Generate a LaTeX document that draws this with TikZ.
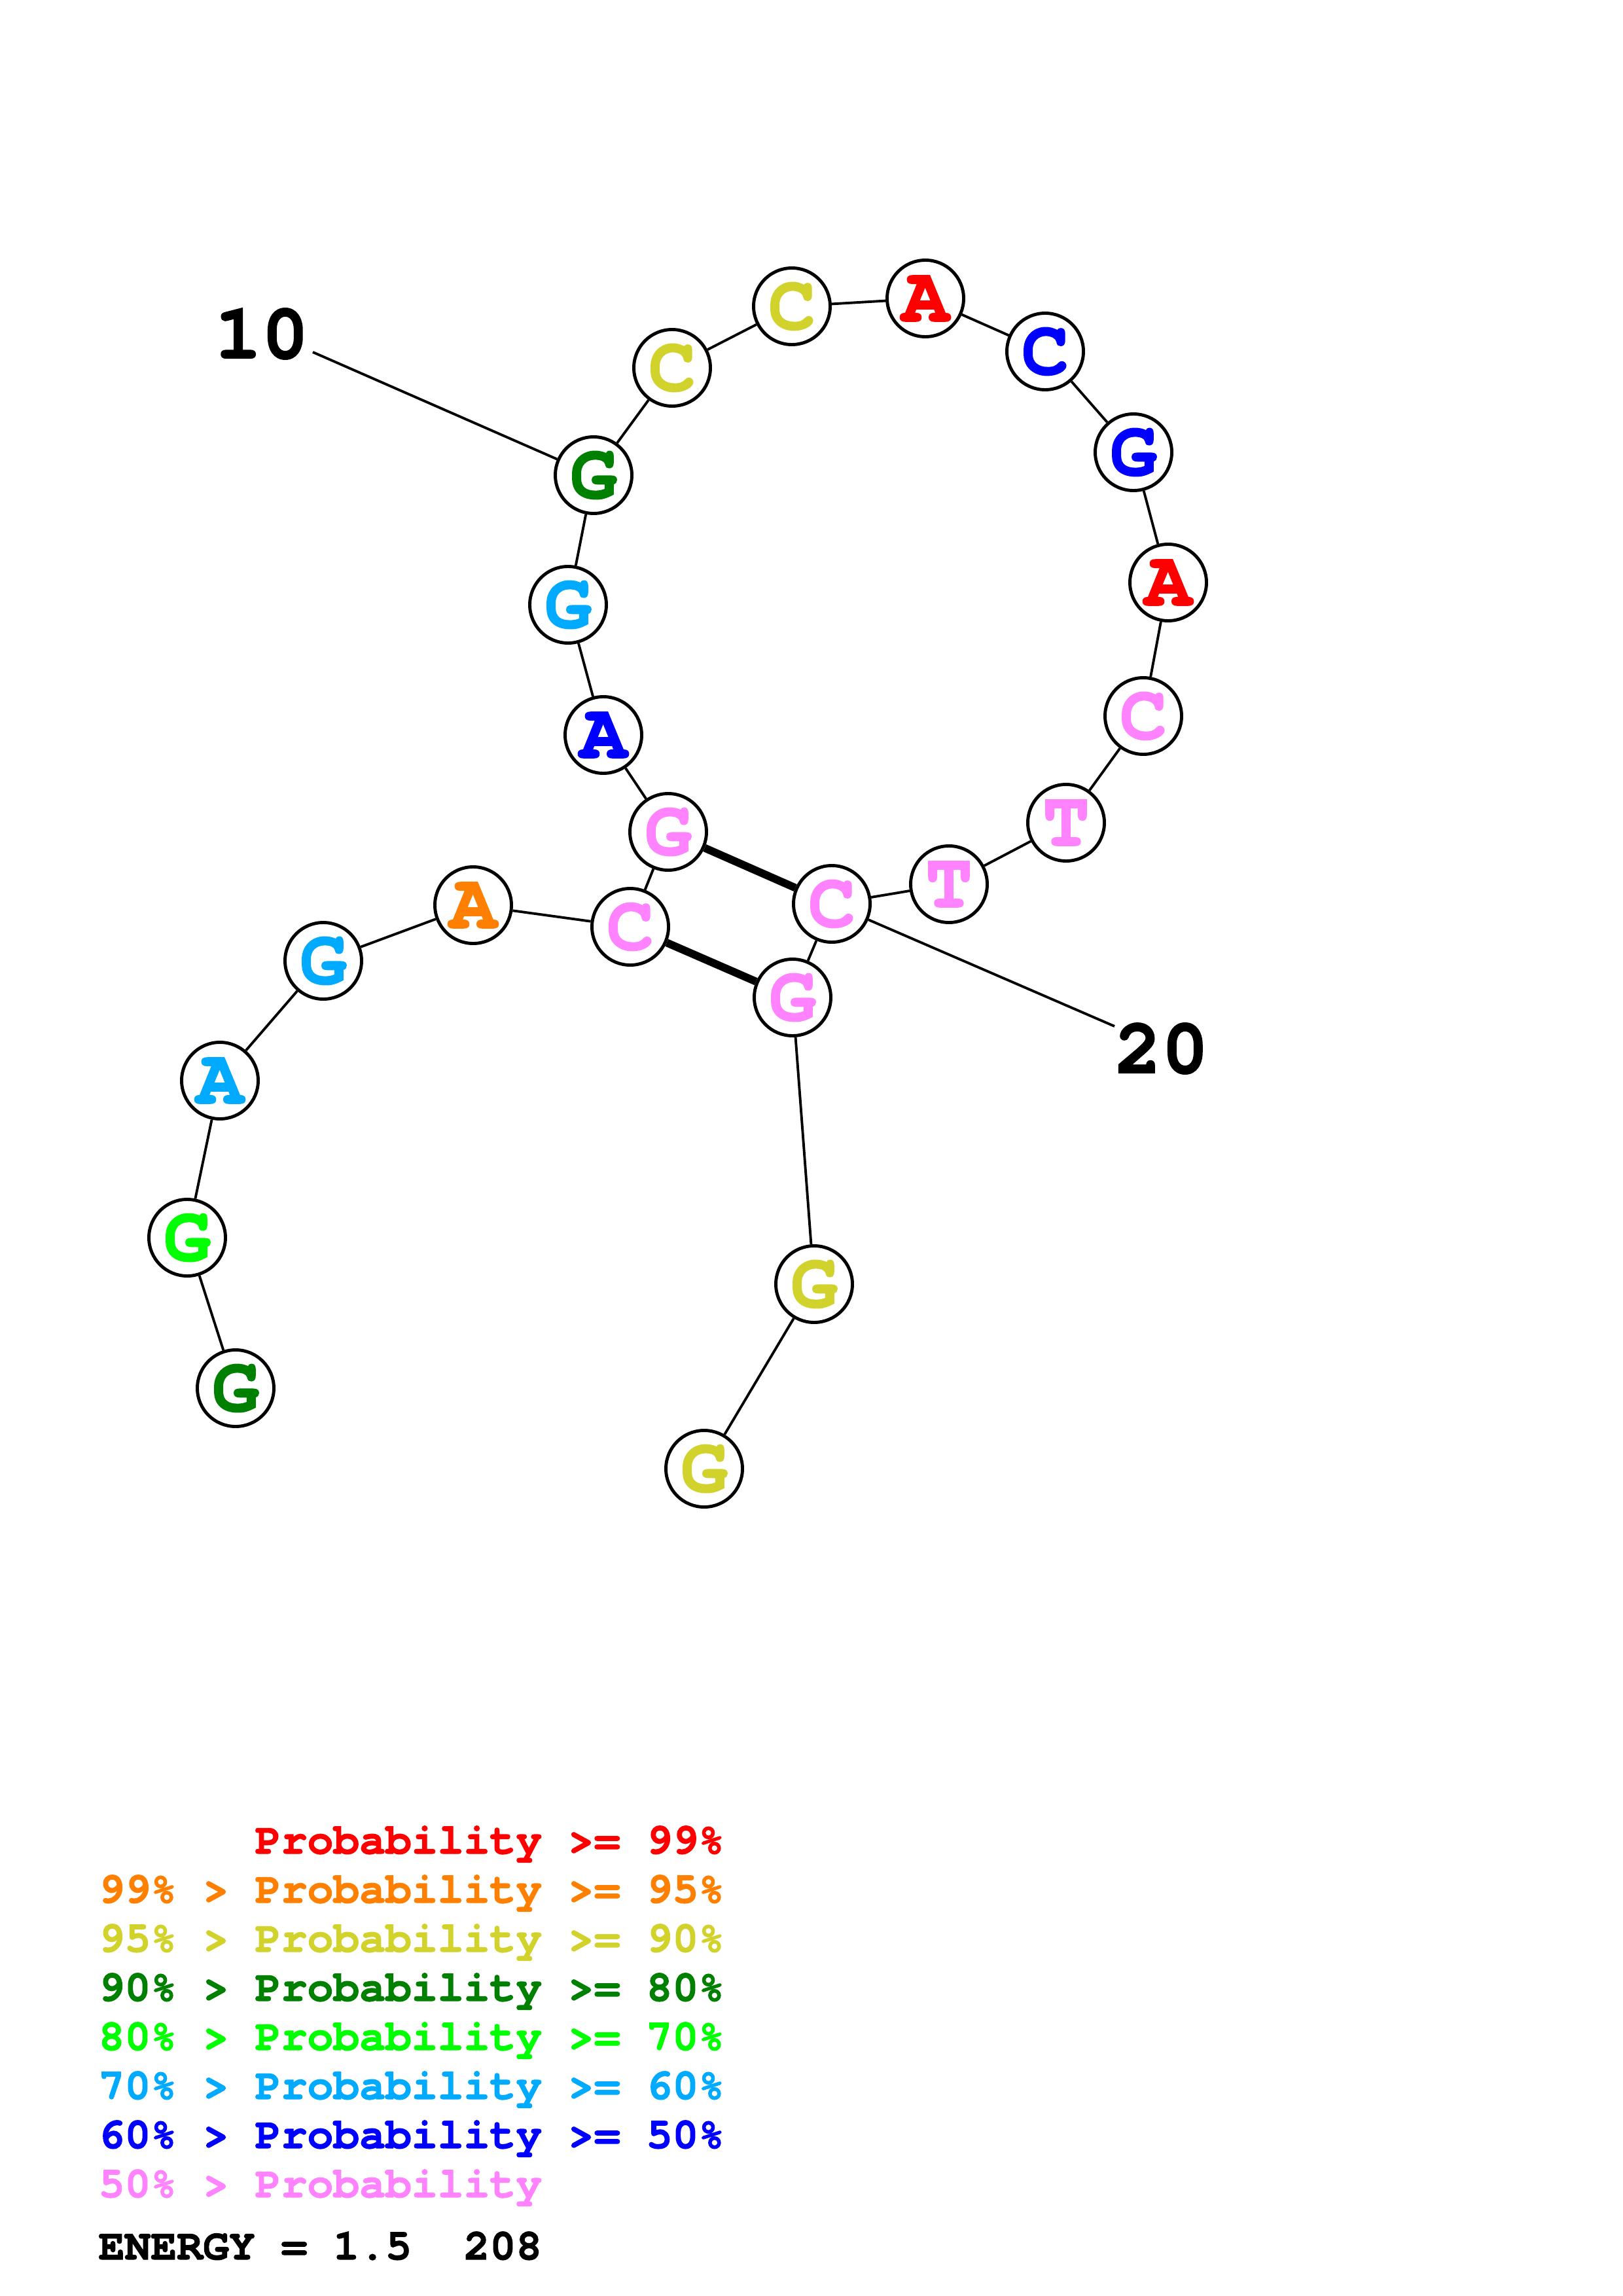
\documentclass[tikz,border=0pt]{standalone}
\usepackage{fontspec}
\setmonofont{TeX Gyre Cursor}[BoldFeatures={FakeBold=1.6}]
\definecolor{prRed}{RGB}{255,0,0}
\definecolor{prOrange}{RGB}{255,128,0}
\definecolor{prYellow}{RGB}{210,210,45}
\definecolor{prDkGreen}{RGB}{0,128,0}
\definecolor{prGreen}{RGB}{0,255,0}
\definecolor{prLtBlue}{RGB}{0,170,255}
\definecolor{prBlue}{RGB}{0,0,255}
\definecolor{prPink}{RGB}{255,130,255}
\begin{document}
\begin{tikzpicture}[x=1cm,y=-1cm,
    nuc/.style={circle,draw,fill=white,line width=1.4pt,minimum size=1.17cm,inner sep=0pt,
      font=\ttfamily\bfseries\fontsize{34}{34}\selectfont},
    tick/.style={inner sep=0pt,font=\ttfamily\bfseries\fontsize{34}{34}\selectfont},
    bb/.style={line width=1.1pt},
    bp/.style={line width=3.4pt},
    legend/.style={anchor=base west,inner sep=0pt,font=\ttfamily\bfseries\fontsize{18.9}{18.9}\selectfont}]
  \useasboundingbox (0,0) rectangle (24.79,35.08);
  % bases
  \node[nuc,text=prDkGreen] (b1) at (3.60,21.21) {G};
  \node[nuc,text=prGreen] (b2) at (2.86,18.91) {G};
  \node[nuc,text=prLtBlue] (b3) at (3.36,16.51) {A};
  \node[nuc,text=prLtBlue] (b4) at (4.94,14.68) {G};
  \node[nuc,text=prOrange] (b5) at (7.23,13.83) {A};
  \node[nuc,text=prPink] (b6) at (9.63,14.16) {C};
  \node[nuc,text=prPink] (b7) at (10.21,12.71) {G};
  \node[nuc,text=prBlue] (b8) at (9.22,11.23) {A};
  \node[nuc,text=prLtBlue] (b9) at (8.68,9.24) {G};
  \node[nuc,text=prDkGreen] (b10) at (9.07,7.26) {G};
  \node[nuc,text=prYellow] (b11) at (10.27,5.62) {C};
  \node[nuc,text=prYellow] (b12) at (12.10,4.68) {C};
  \node[nuc,text=prRed] (b13) at (14.14,4.56) {A};
  \node[nuc,text=prBlue] (b14) at (15.97,5.37) {C};
  \node[nuc,text=prBlue] (b15) at (17.32,6.91) {G};
  \node[nuc,text=prRed] (b16) at (17.85,8.90) {A};
  \node[nuc,text=prPink] (b17) at (17.47,10.94) {C};
  \node[nuc,text=prPink] (b18) at (16.29,12.57) {T};
  \node[nuc,text=prPink] (b19) at (14.50,13.51) {T};
  \node[nuc,text=prPink] (b20) at (12.71,13.81) {C};
  \node[nuc,text=prPink] (b21) at (12.11,15.24) {G};
  \node[nuc,text=prYellow] (b22) at (12.44,19.62) {G};
  \node[nuc,text=prYellow] (b23) at (10.76,22.44) {G};
  % backbone
  \draw[bb] (b1) -- (b2);
  \draw[bb] (b2) -- (b3);
  \draw[bb] (b3) -- (b4);
  \draw[bb] (b4) -- (b5);
  \draw[bb] (b5) -- (b6);
  \draw[bb] (b6) -- (b7);
  \draw[bb] (b7) -- (b8);
  \draw[bb] (b8) -- (b9);
  \draw[bb] (b9) -- (b10);
  \draw[bb] (b10) -- (b11);
  \draw[bb] (b11) -- (b12);
  \draw[bb] (b12) -- (b13);
  \draw[bb] (b13) -- (b14);
  \draw[bb] (b14) -- (b15);
  \draw[bb] (b15) -- (b16);
  \draw[bb] (b16) -- (b17);
  \draw[bb] (b17) -- (b18);
  \draw[bb] (b18) -- (b19);
  \draw[bb] (b19) -- (b20);
  \draw[bb] (b20) -- (b21);
  \draw[bb] (b21) -- (b22);
  \draw[bb] (b22) -- (b23);
  % pairs
  \draw[bp] (b7) -- (b20);
  \draw[bp] (b6) -- (b21);
  % numbering
  \node[tick] (n10) at (4.00,5.10) {10};
  \coordinate (t10) at (4.78,5.38);
  \draw[bb] (t10) -- (b10);
  \node[tick] (n20) at (17.75,16.02) {20};
  \coordinate (t20) at (17.03,15.68);
  \draw[bb] (b20) -- (t20);
  % legend
  \node[legend,text=prRed] (l1) at (1.50,28.32) {\ \ \ \ \ \ Probability >= 99\%};
  \node[legend,text=prOrange] (l2) at (1.50,29.07) {99\% > Probability >= 95\%};
  \node[legend,text=prYellow] (l3) at (1.50,29.82) {95\% > Probability >= 90\%};
  \node[legend,text=prDkGreen] (l4) at (1.50,30.57) {90\% > Probability >= 80\%};
  \node[legend,text=prGreen] (l5) at (1.50,31.32) {80\% > Probability >= 70\%};
  \node[legend,text=prLtBlue] (l6) at (1.50,32.07) {70\% > Probability >= 60\%};
  \node[legend,text=prBlue] (l7) at (1.50,32.82) {60\% > Probability >= 50\%};
  \node[legend,text=prPink] (l8) at (1.50,33.57) {50\% > Probability};
  \node[legend] (en) at (1.50,34.52) {ENERGY = 1.5\ \ 208};
\end{tikzpicture}
\end{document}
